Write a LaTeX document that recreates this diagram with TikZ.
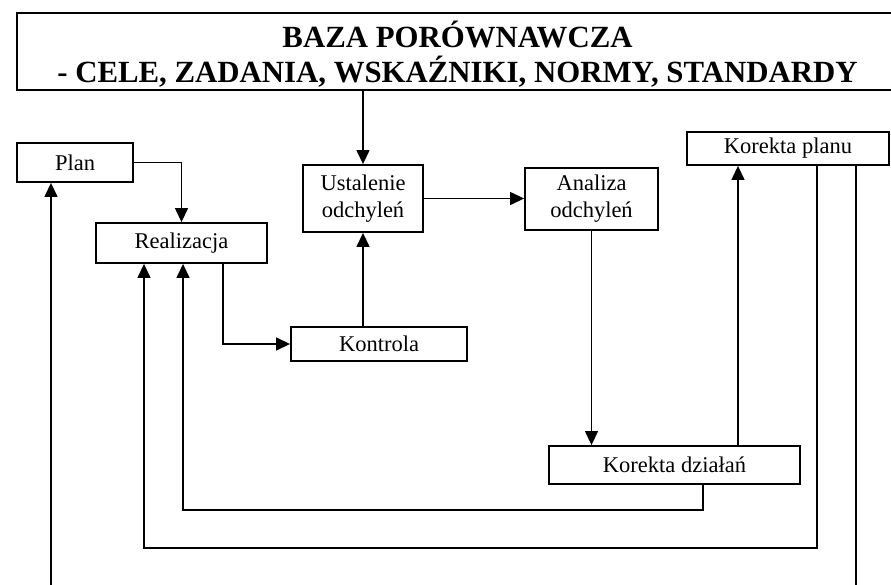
\documentclass[tikz,border=0pt]{standalone}
\usepackage{fontspec}
\setmainfont{Liberation Serif}
\usetikzlibrary{arrows.meta}
\begin{document}
\begin{tikzpicture}[x=0.03cm, y=-0.03cm,
    box/.style={draw, line width=1.5pt, inner sep=0pt, align=center,
      font=\fontsize{19.2}{23}\selectfont},
    title/.style={anchor=base, font=\bfseries\fontsize{26.3}{30}\selectfont},
    arr/.style={line width=1.5pt, -{Triangle[length=12pt, width=11pt]}},
    lin/.style={line width=1.5pt}]
    \useasboundingbox (0,0) rectangle (891,584);
    \clip (0,0) rectangle (891,584);

    \node[draw, line width=1.5pt, minimum width=26.64cm, minimum height=2.31cm] (baza) at (461,51.5) {};
    \node[title] (bazatitle) at (457.5,47) {BAZA PORÓWNAWCZA};
    \node[title] (bazasub) at (457.5,82) {- CELE, ZADANIA, WSKAŹNIKI, NORMY, STANDARDY};

    \node[box, minimum width=3.48cm, minimum height=1.17cm] (plan) at (75,162.5) {Plan};
    \node[box, minimum width=5.13cm, minimum height=1.2cm] (realizacja) at (181.5,243) {Realizacja};
    \node[box, minimum width=3.6cm, minimum height=2.01cm] (ustalenie) at (363,198.5) {Ustalenie\\odchyleń};
    \node[box, minimum width=3.99cm, minimum height=1.86cm] (analiza) at (591.5,199) {Analiza\\odchyleń};
    \node[box, minimum width=5.28cm, minimum height=1.02cm] (kontrola) at (379,344) {Kontrola};
    \node[box, minimum width=6.06cm, minimum height=0.99cm] (korektaP) at (788,148.5) {Korekta planu};
    \node[box, minimum width=7.53cm, minimum height=1.14cm] (korektaD) at (674.5,465) {Korekta działań};

    \draw[arr] (baza.south -| ustalenie.north) -- (ustalenie.north);
    \draw[arr] (plan.east) -| (realizacja.north);
    \draw[arr] (ustalenie.east) -- (ustalenie.east -| analiza.west);
    \draw[arr] (realizacja.south -| 223,0) |- (kontrola.west);
    \draw[arr] (kontrola.north -| ustalenie.south) -- (ustalenie.south);
    \draw[arr] (analiza.south) -- (analiza.south |- korektaD.north);
    \draw[arr] (korektaD.north -| 738,0) -- (korektaP.south -| 738,0);

    \draw[arr] (korektaD.south -| 703,0) |- (183,510) -- (realizacja.south -| 183,0);
    \draw[arr] (korektaP.south -| 817,0) |- (144,548) -- (realizacja.south -| 144,0);

    \coordinate (planend) at (856,590);
    \coordinate (planstart) at (51,590);
    \draw[lin] (korektaP.south -| planend) -- (planend);
    \draw[arr] (planstart) -- (plan.south -| planstart);
\end{tikzpicture}
\end{document}
